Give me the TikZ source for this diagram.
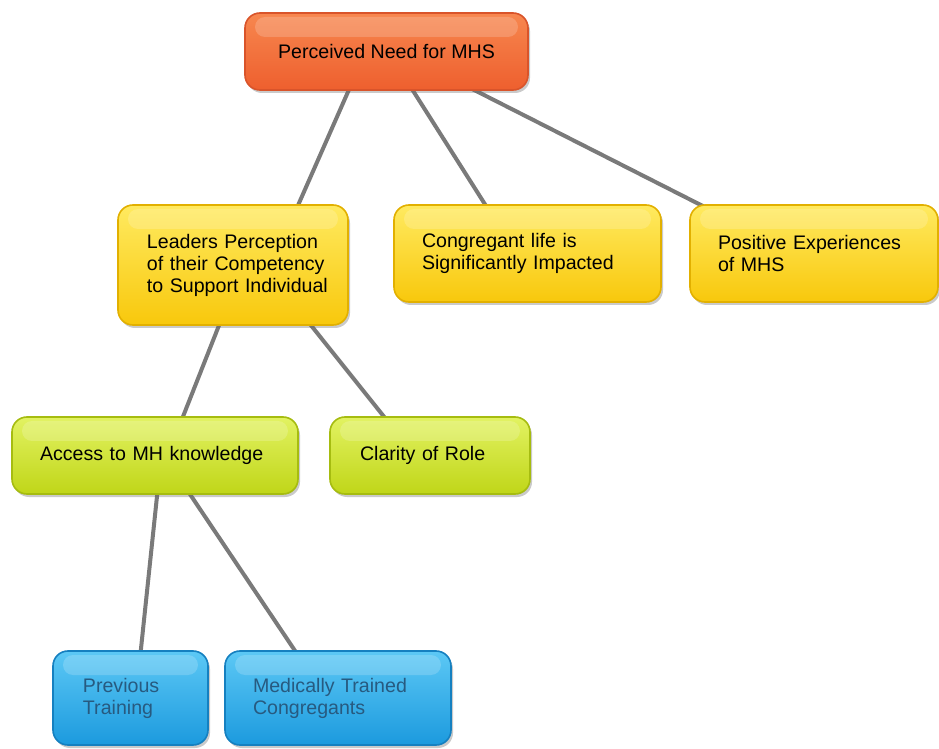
\documentclass[tikz,border=0pt]{standalone}
\usepackage{fontspec}
\setmainfont{Liberation Sans}
\usetikzlibrary{shadows,backgrounds,calc}

\definecolor{orangeTop}{HTML}{F7874F}
\definecolor{orangeBot}{HTML}{EE5F2E}
\definecolor{orangeLine}{HTML}{D9542A}
\definecolor{yelTop}{HTML}{FFEA60}
\definecolor{yelBot}{HTML}{F8C80C}
\definecolor{yelLine}{HTML}{E2B000}
\definecolor{grnTop}{HTML}{E2F262}
\definecolor{grnBot}{HTML}{C0D618}
\definecolor{grnLine}{HTML}{A6BC10}
\definecolor{bluTop}{HTML}{5CC8F5}
\definecolor{bluBot}{HTML}{1C9ADE}
\definecolor{bluLine}{HTML}{1580C0}
\definecolor{bluText}{HTML}{275A80}
\definecolor{linkGray}{HTML}{7A7A7A}

\tikzset{
  gelbox/.style={rounded corners=7.5pt, line width=0.8pt, inner xsep=4pt,
    inner ysep=0pt, align=left, font=\fontsize{9.8}{11}\selectfont,
    execute at begin node={\leftskip=10pt\relax},
    drop shadow={shadow xshift=1pt, shadow yshift=-1.5pt, opacity=0.35, fill=black!60},
    path picture={
      \fill[white, opacity=0.18, rounded corners=5pt]
        ($(path picture bounding box.north west)+(5pt,-2pt)$) rectangle
        ($(path picture bounding box.north east)+(-5pt,-12pt)$);
    }},
  rootbox/.style={gelbox, draw=orangeLine, top color=orangeTop, bottom color=orangeBot,
    align=center, inner xsep=14pt, execute at begin node={}},
  yelbox/.style={gelbox, draw=yelLine, top color=yelTop, bottom color=yelBot},
  grnbox/.style={gelbox, draw=grnLine, top color=grnTop, bottom color=grnBot},
  blubox/.style={gelbox, draw=bluLine, top color=bluTop, bottom color=bluBot, text=bluText},
  link/.style={draw=linkGray, line width=2pt}
}

\begin{document}
\begin{tikzpicture}[x=0.5pt, y=-0.5pt]
  \useasboundingbox (0,0) rectangle (939,749);

  % top level
  \node[rootbox, minimum width=141.5pt, minimum height=38.5pt] (root) at (386.5,51.5)
    {Perceived Need for MHS};

  % second level
  \node[yelbox, text width=107pt, minimum height=60pt, execute at begin node={\leftskip=10.5pt\relax}] (lead) at (233,265)
    {Leaders Perception\\of their Competency\\to Support Individual};
  \node[yelbox, text width=125.5pt, minimum height=48.5pt] (cong) at (527.5,253.5)
    {Congregant life is\\Significantly Impacted};
  \node[yelbox, text width=116pt, minimum height=48.5pt] (posi) at (814,253.5)
    {Positive Experiences\\of MHS};

  % third level
  \node[grnbox, text width=135pt, minimum height=38.5pt] (acc) at (155,455.5)
    {Access to MH knowledge};
  \node[grnbox, text width=92pt, minimum height=38.5pt, execute at begin node={\leftskip=11pt\relax}] (clar) at (430,455.5)
    {Clarity of Role};

  % fourth level
  \node[blubox, text width=69.5pt, minimum height=47pt, execute at begin node={\leftskip=11pt\relax}] (prev) at (130.5,698)
    {Previous\\Training};
  \node[blubox, text width=105pt, minimum height=47pt] (med) at (338,698)
    {Medically Trained\\Congregants};

  % connectors behind the boxes
  \begin{scope}[on background layer]
    \draw[link] ([xshift=-17.25pt,yshift=4pt]root.south) -- ([xshift=31pt,yshift=-4pt]lead.north);
    \draw[link] ([xshift=10.75pt,yshift=4pt]root.south) -- ([xshift=-18.75pt,yshift=-4pt]cong.north);
    \draw[link] ([xshift=36.75pt,yshift=4pt]root.south) -- ([xshift=-49.5pt,yshift=-4pt]posi.north);
    \draw[link] ([xshift=-5.5pt,yshift=4pt]lead.south) -- ([xshift=12.5pt,yshift=-4pt]acc.north);
    \draw[link] ([xshift=36pt,yshift=4pt]lead.south) -- ([xshift=-20pt,yshift=-4pt]clar.north);
    \draw[link] ([xshift=1.5pt,yshift=4pt]acc.south) -- ([xshift=4.75pt,yshift=-4pt]prev.north);
    \draw[link] ([xshift=15pt,yshift=4pt]acc.south) -- ([xshift=-19pt,yshift=-4pt]med.north);
  \end{scope}
\end{tikzpicture}
\end{document}
